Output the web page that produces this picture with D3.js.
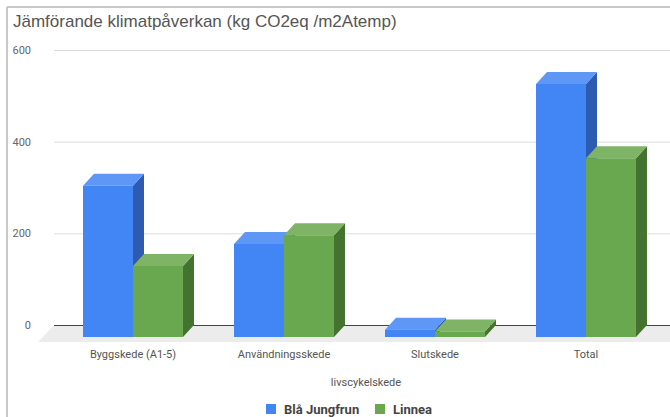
<!DOCTYPE html>
<html>
<head>
<meta charset="utf-8">
<script src="https://cdn.jsdelivr.net/npm/d3@7"></script>
<style>
  html, body { margin: 0; padding: 0; background: #fff; }
  svg { display: block; }
</style>
</head>
<body>
<svg id="chart" width="670" height="417"></svg>
<script>
// Lifecycle stages and climate impact per building (kg CO2eq / m2 Atemp)
const categories = ["Byggskede (A1-5)", "Användningsskede", "Slutskede", "Total"];
const seriesNames = ["Blå Jungfrun", "Linnea"];
const blaJungfrun = [330, 203, 16, 552];
const linnea = [155, 222, 12, 390];
const yTicks = [0, 200, 400, 600];

const seriesValues = [blaJungfrun, linnea];
const palette = [
  { front: "#4285f4", top: "#5e97f6", side: "#2c5bb1" },
  { front: "#6aa84f", top: "#7fb466", side: "#44722f" }
];

const W = 670, H = 417;
const svg = d3.select("#chart");

// 3D depth offset between front face and back wall
const depthX = 11, depthY = 12;

// Back wall scale (gridlines live here)
const y = d3.scaleLinear().domain([0, 600]).range([325, 50]);

// Front plane category positions
const x0 = d3.scaleBand().domain(categories).range([57.5, 661.5])
  .paddingInner(0.338).paddingOuter(0.169);
const x1 = d3.scaleBand().domain(seriesNames).range([0, x0.bandwidth()]);

// Frame lines
svg.append("line").attr("x1", 7).attr("x2", 7).attr("y1", 7).attr("y2", H)
  .attr("stroke", "#c8c8c8").attr("stroke-width", 2);
svg.append("line").attr("x1", 7).attr("x2", W).attr("y1", 7).attr("y2", 7)
  .attr("stroke", "#c8c8c8").attr("stroke-width", 2);

// Title
svg.append("text")
  .attr("x", 13).attr("y", 27)
  .attr("font-family", "Liberation Sans, Arial, sans-serif")
  .attr("font-size", 17)
  .attr("fill", "#555")
  .text("Jämförande klimatpåverkan (kg CO2eq /m2Atemp)");

// Floor
svg.append("polygon")
  .attr("points", [[54, y(0)], [W, y(0)], [W, y(0) + 17], [38, y(0) + 17]].map(p => p.join(",")).join(" "))
  .attr("fill", "#ececec");

// Gridlines and y tick labels
const yAxis = d3.axisLeft(y).tickValues(yTicks).tickSize(-(W - 54)).tickPadding(23);
const gy = svg.append("g").attr("transform", "translate(54,0)").call(yAxis);
gy.select(".domain").remove();
gy.selectAll(".tick line").attr("stroke", d => d === 0 ? "#444" : "#dcdcdc");
gy.selectAll(".tick text")
  .attr("font-family", "Roboto, Arial, sans-serif")
  .attr("font-size", 11)
  .attr("fill", "#666");

// 3D columns
const bars = svg.append("g");
categories.forEach((cat, ci) => {
  seriesNames.forEach((name, si) => {
    const v = seriesValues[si][ci];
    const c = palette[si];
    const xl = x0(cat) + x1(name);
    const xr = xl + x1.bandwidth();
    const yt = y(v) + depthY;      // front top
    const yb = y(0) + depthY;      // front bottom
    const g = bars.append("g");
    // side face
    g.append("polygon")
      .attr("points", [[xr, yt], [xr + depthX, yt - depthY], [xr + depthX, yb - depthY], [xr, yb]].map(p => p.join(",")).join(" "))
      .attr("fill", c.side);
    // top face
    g.append("polygon")
      .attr("points", [[xl, yt], [xl + depthX, yt - depthY], [xr + depthX, yt - depthY], [xr, yt]].map(p => p.join(",")).join(" "))
      .attr("fill", c.top);
    // front face
    g.append("rect")
      .attr("x", xl).attr("y", yt)
      .attr("width", xr - xl).attr("height", yb - yt)
      .attr("fill", c.front);
  });
});

// Category labels
const xAxis = d3.axisBottom(x0).tickSize(0).tickPadding(0);
const gx = svg.append("g").attr("transform", "translate(0,350)").call(xAxis);
gx.select(".domain").remove();
gx.selectAll(".tick text")
  .attr("font-family", "Roboto, Arial, sans-serif")
  .attr("font-size", 11)
  .attr("fill", "#555");

// Axis title
svg.append("text")
  .attr("x", 366).attr("y", 386)
  .attr("text-anchor", "middle")
  .attr("font-family", "Roboto, Arial, sans-serif")
  .attr("font-size", 11)
  .attr("fill", "#555")
  .text("livscykelskede");

// Legend
const legendItems = [
  { name: seriesNames[0], color: palette[0].front, x: 266 },
  { name: seriesNames[1], color: palette[1].front, x: 375 }
];
const lg = svg.append("g");
legendItems.forEach(it => {
  lg.append("rect").attr("x", it.x).attr("y", 404).attr("width", 10).attr("height", 10).attr("fill", it.color);
  lg.append("text")
    .attr("x", it.x + 18).attr("y", 413.5)
    .attr("font-family", "Roboto, Arial, sans-serif")
    .attr("font-size", 13)
    .attr("font-weight", "bold")
    .attr("fill", "#444")
    .text(it.name);
});
</script>
</body>
</html>
